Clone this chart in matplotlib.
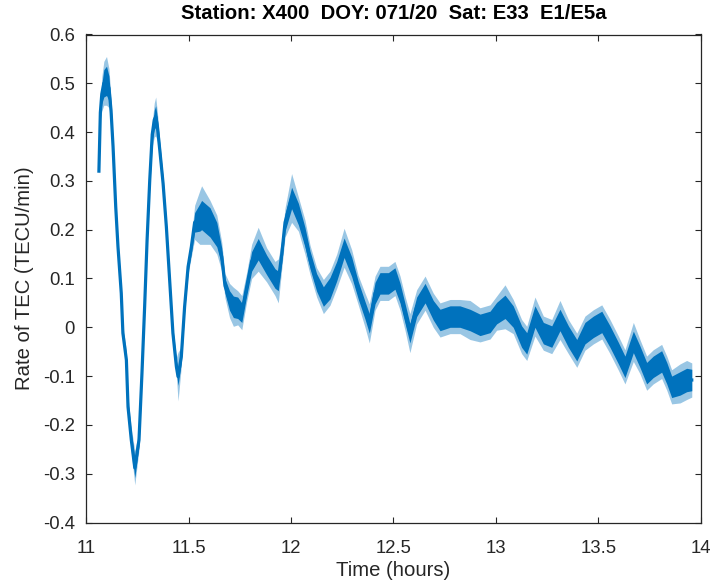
import matplotlib
matplotlib.use("Agg")
import matplotlib.pyplot as plt
import numpy as np

# ---- data ----
time_h = [11.063, 11.070, 11.077, 11.087, 11.100, 11.112, 11.122, 11.132, 11.145, 11.156,
          11.172, 11.180, 11.197, 11.205, 11.221, 11.238, 11.2585, 11.273, 11.286, 11.298,
          11.311, 11.323, 11.333, 11.340, 11.348, 11.360, 11.376, 11.392, 11.408, 11.424,
          11.441, 11.449, 11.465, 11.481, 11.498, 11.514, 11.530, 11.555, 11.564, 11.605,
          11.638, 11.662, 11.678, 11.700, 11.719, 11.740, 11.760, 11.784, 11.808, 11.840,
          11.881, 11.922, 11.938, 11.955, 11.971, 12.003, 12.036, 12.068, 12.093, 12.125,
          12.158, 12.190, 12.223, 12.259, 12.296, 12.328, 12.361, 12.382, 12.410, 12.434,
          12.475, 12.507, 12.532, 12.556, 12.580, 12.613, 12.654, 12.694, 12.727, 12.776,
          12.824, 12.873, 12.922, 12.971, 13.003, 13.044, 13.084, 13.125, 13.150, 13.190,
          13.231, 13.272, 13.312, 13.353, 13.394, 13.434, 13.475, 13.516, 13.556, 13.597,
          13.629, 13.670, 13.702, 13.735, 13.767, 13.808, 13.833, 13.857, 13.898, 13.930,
          13.955]

rate_mid = [0.320, 0.440, 0.478, 0.500, 0.505, 0.490, 0.445, 0.370, 0.247, 0.165,
            0.070, -0.012, -0.067, -0.163, -0.231, -0.288, -0.231, -0.094, 0.042, 0.179,
            0.302, 0.395, 0.425, 0.432, 0.412, 0.363, 0.295, 0.206, 0.097, -0.012,
            -0.081, -0.101, -0.060, 0.042, 0.124, 0.165, 0.215, 0.225, 0.230, 0.215,
            0.190, 0.145, 0.085, 0.055, 0.042, 0.040, 0.030, 0.083, 0.135, 0.160,
            0.128, 0.100, 0.095, 0.150, 0.215, 0.265, 0.232, 0.185, 0.138, 0.092,
            0.063, 0.080, 0.115, 0.163, 0.124, 0.076, 0.035, 0.008, 0.070, 0.090,
            0.090, 0.100, 0.070, 0.029, -0.012, 0.042, 0.070, 0.035, 0.015, 0.022,
            0.022, 0.015, 0.005, 0.011, 0.029, 0.042, 0.022, -0.019, -0.033, 0.022,
            -0.012, -0.019, 0.015, -0.019, -0.047, -0.012, 0.001, 0.011, -0.019, -0.053,
            -0.081, -0.030, -0.060, -0.094, -0.081, -0.070, -0.094, -0.122, -0.115, -0.108,
            -0.108]

# half-width of the dense noise band (core) and of the occasional spikes
band_core = [0.004, 0.010, 0.020, 0.028, 0.030, 0.025, 0.015, 0.010, 0.008, 0.008,
             0.008, 0.008, 0.010, 0.012, 0.015, 0.020, 0.012, 0.008, 0.008, 0.008,
             0.010, 0.015, 0.020, 0.022, 0.018, 0.012, 0.010, 0.008, 0.008, 0.008,
             0.012, 0.018, 0.012, 0.008, 0.010, 0.012, 0.020, 0.028, 0.030, 0.030,
             0.025, 0.018, 0.015, 0.020, 0.022, 0.022, 0.020, 0.018, 0.020, 0.022,
             0.020, 0.020, 0.020, 0.018, 0.018, 0.022, 0.022, 0.020, 0.018, 0.018,
             0.020, 0.022, 0.020, 0.020, 0.020, 0.018, 0.018, 0.020, 0.022, 0.022,
             0.022, 0.022, 0.020, 0.020, 0.020, 0.020, 0.020, 0.020, 0.022, 0.022,
             0.022, 0.022, 0.022, 0.022, 0.022, 0.024, 0.022, 0.022, 0.022, 0.022,
             0.022, 0.022, 0.022, 0.022, 0.022, 0.022, 0.022, 0.022, 0.022, 0.022,
             0.022, 0.022, 0.022, 0.022, 0.022, 0.022, 0.022, 0.022, 0.024, 0.024,
             0.022]

band_spike = [0.006, 0.015, 0.035, 0.045, 0.050, 0.040, 0.025, 0.015, 0.012, 0.012,
              0.012, 0.015, 0.020, 0.020, 0.025, 0.035, 0.020, 0.012, 0.012, 0.012,
              0.015, 0.025, 0.035, 0.040, 0.030, 0.020, 0.015, 0.012, 0.012, 0.012,
              0.020, 0.050, 0.020, 0.012, 0.015, 0.020, 0.035, 0.055, 0.060, 0.045,
              0.040, 0.030, 0.025, 0.035, 0.040, 0.035, 0.035, 0.030, 0.035, 0.045,
              0.035, 0.035, 0.045, 0.030, 0.030, 0.050, 0.035, 0.035, 0.030, 0.030,
              0.035, 0.035, 0.035, 0.040, 0.035, 0.030, 0.035, 0.040, 0.035, 0.035,
              0.035, 0.035, 0.035, 0.035, 0.040, 0.035, 0.035, 0.035, 0.035, 0.035,
              0.035, 0.040, 0.035, 0.035, 0.035, 0.045, 0.035, 0.035, 0.035, 0.040,
              0.035, 0.035, 0.040, 0.035, 0.035, 0.035, 0.035, 0.035, 0.035, 0.035,
              0.035, 0.040, 0.035, 0.035, 0.035, 0.035, 0.035, 0.035, 0.040, 0.040,
              0.035]

x_ticks = [11, 11.5, 12, 12.5, 13, 13.5, 14]
x_tick_labels = ["11", "11.5", "12", "12.5", "13", "13.5", "14"]
y_ticks = [-0.4, -0.3, -0.2, -0.1, 0, 0.1, 0.2, 0.3, 0.4, 0.5, 0.6]
y_tick_labels = ["-0.4", "-0.3", "-0.2", "-0.1", "0", "0.1", "0.2", "0.3", "0.4", "0.5", "0.6"]

title_text = "Station: X400  DOY: 071/20  Sat: E33  E1/E5a"
x_label = "Time (hours)"
y_label = "Rate of TEC (TECU/min)"

# ---- drawing ----
plt.rcParams["font.family"] = ["Liberation Sans", "DejaVu Sans"]
line_color = "#0072BD"
axis_color = "#262626"

W, H = 718, 586
fig = plt.figure(figsize=(W / 100, H / 100), dpi=100)
ax = fig.add_axes([86 / W, 1 - 522.5 / H, 615 / W, 488 / H])

t = np.array(time_h)
m = np.array(rate_mid)
core = np.array(band_core)
spike = np.array(band_spike)

ax.fill_between(t, m - spike, m + spike, color=line_color, alpha=0.4, lw=0)
ax.fill_between(t, m - core, m + core, color=line_color, alpha=1.0, lw=0)
ax.plot(t, m, color=line_color, lw=2.3, solid_joinstyle="round")

ax.set_xlim(11, 14)
ax.set_ylim(-0.4, 0.6)
ax.set_xticks(x_ticks)
ax.set_xticklabels(x_tick_labels)
ax.set_yticks(y_ticks)
ax.set_yticklabels(y_tick_labels)

for s in ax.spines.values():
    s.set_color(axis_color)
    s.set_linewidth(0.9)

ax.tick_params(axis="both", direction="in", top=True, right=True, length=4.5,
               width=0.8, color=axis_color, labelcolor=axis_color, labelsize=13.3)
ax.tick_params(axis="x", pad=12.5)
ax.tick_params(axis="y", pad=8)

ax.set_xlabel(x_label, fontsize=14.6, color=axis_color, labelpad=3)
ax.set_ylabel(y_label, fontsize=14.6, color=axis_color, labelpad=6)
ax.set_title(title_text, fontsize=14.6, fontweight="bold", color="black", pad=11.5)

fig.savefig("out.png", dpi=100)
